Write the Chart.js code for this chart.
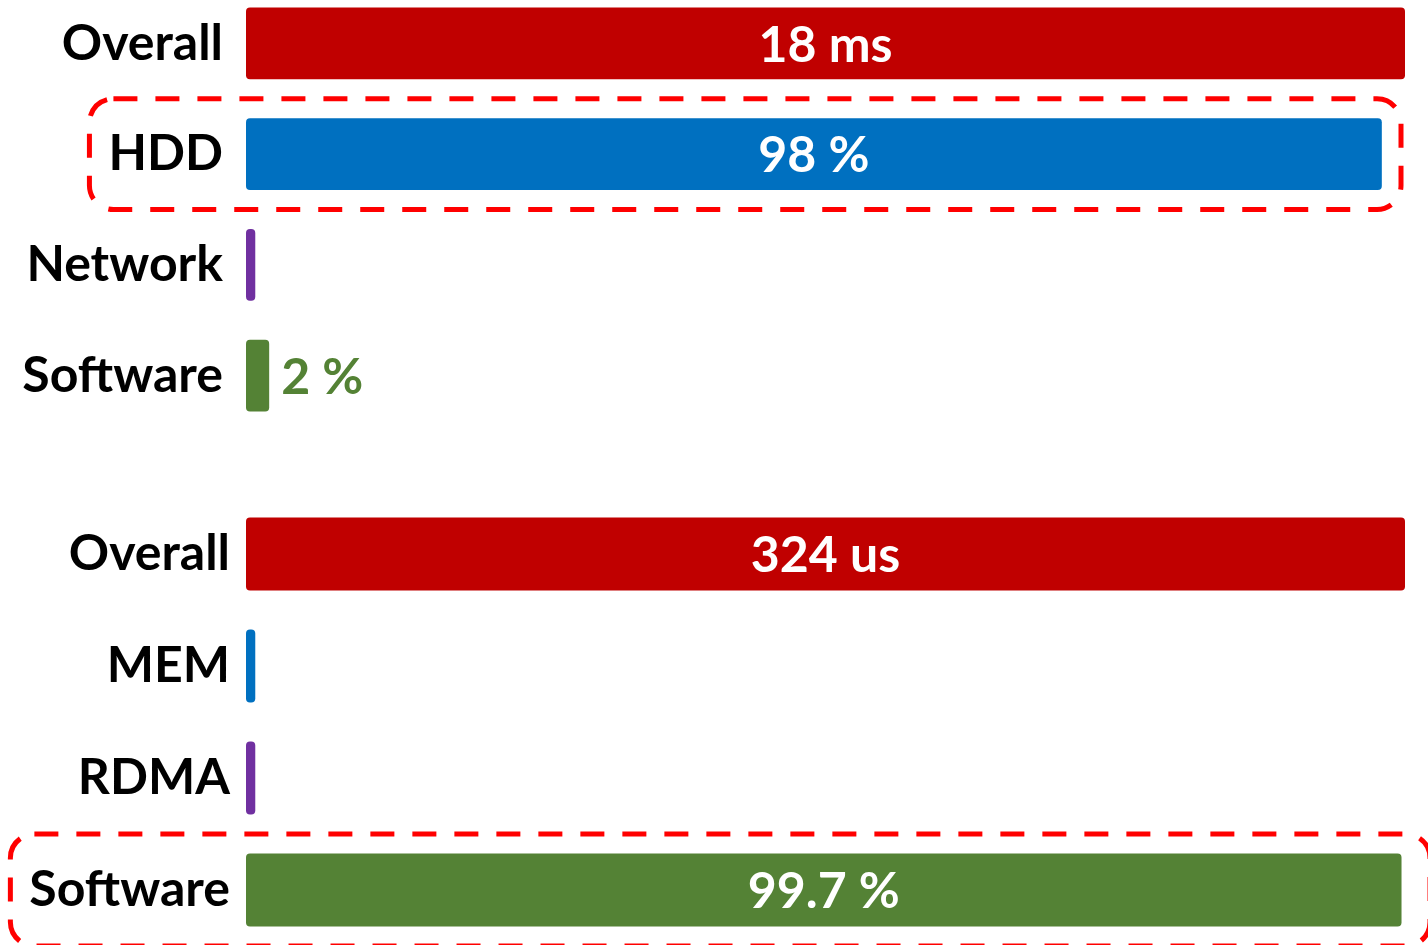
<!DOCTYPE html>
<html>
<head>
<meta charset="utf-8">
<title>Latency breakdown</title>
<script src="https://cdn.jsdelivr.net/npm/chart.js@4"></script>
<style>
  html, body { margin: 0; padding: 0; background: #fff; overflow: hidden; }
  body { width: 1428px; height: 945px; position: relative; }
  .panel { position: absolute; left: 0; width: 1428px; }
  #hddPanel { top: -12px; height: 443px; }
  #rdmaPanel { top: 498px; height: 448px; }
</style>
</head>
<body>
<div class="panel" id="hddPanel"><canvas id="hddChart"></canvas></div>
<div class="panel" id="rdmaPanel"><canvas id="rdmaChart"></canvas></div>
<script>
// latency breakdown, disk storage vs RDMA storage

var hddCategories = ['Overall', 'HDD', 'Network', 'Software'];
var hddShare = [100, 98, 0.8, 2];          // % of overall latency
var hddText = ['18 ms', '98 %', '', '2 %'];

var rdmaCategories = ['Overall', 'MEM', 'RDMA', 'Software'];
var rdmaShare = [100, 0.8, 0.8, 99.7];     // % of overall latency
var rdmaText = ['324 us', '', '', '99.7 %'];

var RED = '#C00000', BLUE = '#0070C0', PURPLE = '#7030A0', GREEN = '#548235';
var FONT = 'bold 50px Lato';

Chart.defaults.font.family = 'Lato';

// value text in the bar, or right after it when the bar is too short
var barText = {
    id: 'barText',
    afterDatasetsDraw: function (chart, args, opts) {
        var ctx = chart.ctx;
        var colors = chart.data.datasets[0].backgroundColor;
        ctx.save();
        ctx.font = FONT;
        ctx.textBaseline = 'middle';
        chart.getDatasetMeta(0).data.forEach(function (bar, i) {
            var txt = opts.text[i];
            if (!txt) return;
            var w = ctx.measureText(txt).width;
            if (bar.x - bar.base > w + 20) {
                ctx.fillStyle = '#fff';
                ctx.textAlign = 'center';
                ctx.fillText(txt, (bar.base + bar.x) / 2, bar.y + 2);
            } else {
                ctx.fillStyle = colors[i];
                ctx.textAlign = 'left';
                ctx.fillText(txt, bar.x + 12, bar.y + 2);
            }
        });
        ctx.restore();
    }
};

// red dashed frame around one row (label + bar)
var dashedBox = {
    id: 'dashedBox',
    afterDraw: function (chart, args, opts) {
        var y = chart.scales.y, ctx = chart.ctx;
        var step = y.getPixelForValue(1) - y.getPixelForValue(0);
        var cy = y.getPixelForValue(opts.index);
        ctx.save();
        ctx.font = FONT;
        var labelW = ctx.measureText(chart.data.labels[opts.index]).width;
        var x0 = y.right - y.options.ticks.padding - labelW - 19;
        var x1 = chart.chartArea.right + opts.overhang;
        ctx.strokeStyle = '#FF0000';
        ctx.lineWidth = 5;
        ctx.setLineDash([24, 18]);
        ctx.beginPath();
        ctx.roundRect(x0, cy - step / 2, x1 - x0, step, 24);
        ctx.stroke();
        ctx.restore();
    }
};

function makeChart(id, categories, share, text, labelPad, box) {
    return new Chart(id, {
        type: 'bar',
        data: {
            labels: categories,
            datasets: [{
                data: share,
                backgroundColor: [RED, BLUE, PURPLE, GREEN],
                borderRadius: 4,
                borderSkipped: false,
                barPercentage: 0.65,
                categoryPercentage: 1
            }]
        },
        options: {
            indexAxis: 'y',
            responsive: true,
            maintainAspectRatio: false,
            animation: false,
            layout: { padding: { left: 0, right: 23, top: 0, bottom: 0 } },
            plugins: {
                legend: { display: false },
                tooltip: { enabled: false },
                barText: { text: text },
                dashedBox: box
            },
            scales: {
                x: { display: false, min: 0, max: 100 },
                y: {
                    grid: { display: false, drawTicks: false },
                    border: { display: false },
                    ticks: {
                        color: '#000',
                        padding: labelPad,
                        font: { size: 50, weight: 'bold' }
                    },
                    // fixed label column, rows use the full height
                    afterFit: function (scale) {
                        scale.width = 246;
                        scale.paddingTop = 0;
                        scale.paddingBottom = 0;
                    }
                }
            }
        },
        plugins: [barText, dashedBox]
    });
}

makeChart('hddChart', hddCategories, hddShare, hddText, 23, { index: 1, overhang: -4 });
makeChart('rdmaChart', rdmaCategories, rdmaShare, rdmaText, 16, { index: 3, overhang: 25 });
</script>
</body>
</html>
